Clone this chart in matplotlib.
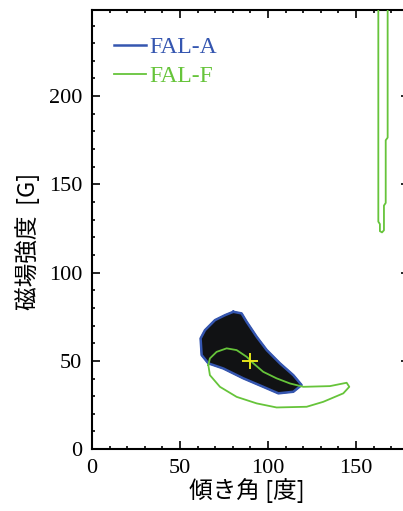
import matplotlib.pyplot as plt
from matplotlib.ticker import MultipleLocator

# FAL-A confidence region outline (inclination [deg], field strength [G])
fal_a_x = [80.3, 85.0, 87.9, 93.6, 99.3, 106.8, 114.4, 119.1, 114.4, 105.9,
           97.3, 86.0, 74.6, 66.1, 62.3, 61.7, 64.2, 69.9, 75.6, 80.3]
fal_a_y = [77.8, 76.9, 72.1, 63.6, 56.1, 48.6, 41.9, 36.3, 32.5, 31.6,
           35.3, 40.1, 45.7, 48.6, 53.3, 62.7, 67.4, 73.1, 75.9, 77.8]

# FAL-F region, lower closed contour
fal_f_x = [66.1, 67.0, 70.8, 76.5, 82.2, 87.9, 91.7, 97.3, 104.9, 112.5, 120.1,
           135.2, 144.7, 146.2, 142.8, 131.4, 122.0, 104.9, 93.6, 82.2, 72.7,
           67.0, 66.1]
fal_f_y = [47.6, 51.4, 55.1, 57.1, 56.1, 52.3, 48.6, 43.8, 40.1, 37.2, 35.3,
           35.7, 37.6, 35.3, 31.6, 26.8, 24.0, 23.6, 25.9, 29.6, 35.3,
           41.9, 47.6]

# FAL-F region, narrow strip near 165 deg
fal_f2_x = [162.7, 162.7, 163.6, 163.6, 164.8, 165.9, 165.9, 166.9, 166.9, 168.0, 168.0]
fal_f2_y = [260, 128.9, 127.5, 123.5, 122.8, 124.0, 138.0, 139.5, 175.0, 176.5, 260]

best_x = [90]
best_y = [50]

blue = "#3556b0"
green = "#66c43a"

plt.rcParams["font.family"] = ["Liberation Serif", "DejaVu Serif"]
fig = plt.figure(figsize=(4.03, 5.11), dpi=100)
ax = fig.add_axes([0.2283, 0.1211, 0.786, 0.860])

ax.fill(fal_a_x, fal_a_y, color="#111214", zorder=2)
ax.plot(fal_a_x, fal_a_y, color=blue, lw=1.8, zorder=3, label="FAL-A")
ax.plot(fal_f_x, fal_f_y, color=green, lw=1.3, zorder=4, label="FAL-F")
ax.plot(fal_f2_x, fal_f2_y, color=green, lw=1.3, zorder=4)
ax.plot(best_x, best_y, "+", color="#e4e41a", ms=11, mew=1.4, zorder=5)

ax.set_xlim(0, 180)
ax.set_ylim(0, 249)
ax.xaxis.set_major_locator(MultipleLocator(50))
ax.xaxis.set_minor_locator(MultipleLocator(10))
ax.yaxis.set_major_locator(MultipleLocator(50))
ax.yaxis.set_minor_locator(MultipleLocator(10))
ax.tick_params(which="both", direction="in", top=True, right=True, width=1.2)
ax.tick_params(which="major", length=5.5, labelsize=16, pad=7)
ax.tick_params(which="minor", length=2.5)
for s in ax.spines.values():
    s.set_linewidth(1.5)

cjk = ["Noto Sans CJK JP", "DejaVu Sans"]
ax.set_xlabel("傾き角 [度]", family=cjk, fontsize=17)
ax.set_ylabel("磁場強度  [G]", family=cjk, fontsize=17)
ax.xaxis.set_label_coords(0.49, -0.066)
ax.yaxis.set_label_coords(-0.165, 0.473)

ax.legend(loc="upper left", frameon=False, fontsize=17, labelcolor="linecolor",
          handlelength=1.35, handletextpad=0.15, labelspacing=0.3,
          borderaxespad=0.7, bbox_to_anchor=(-0.012, 0.997))

fig.savefig("out.png", dpi=100)
